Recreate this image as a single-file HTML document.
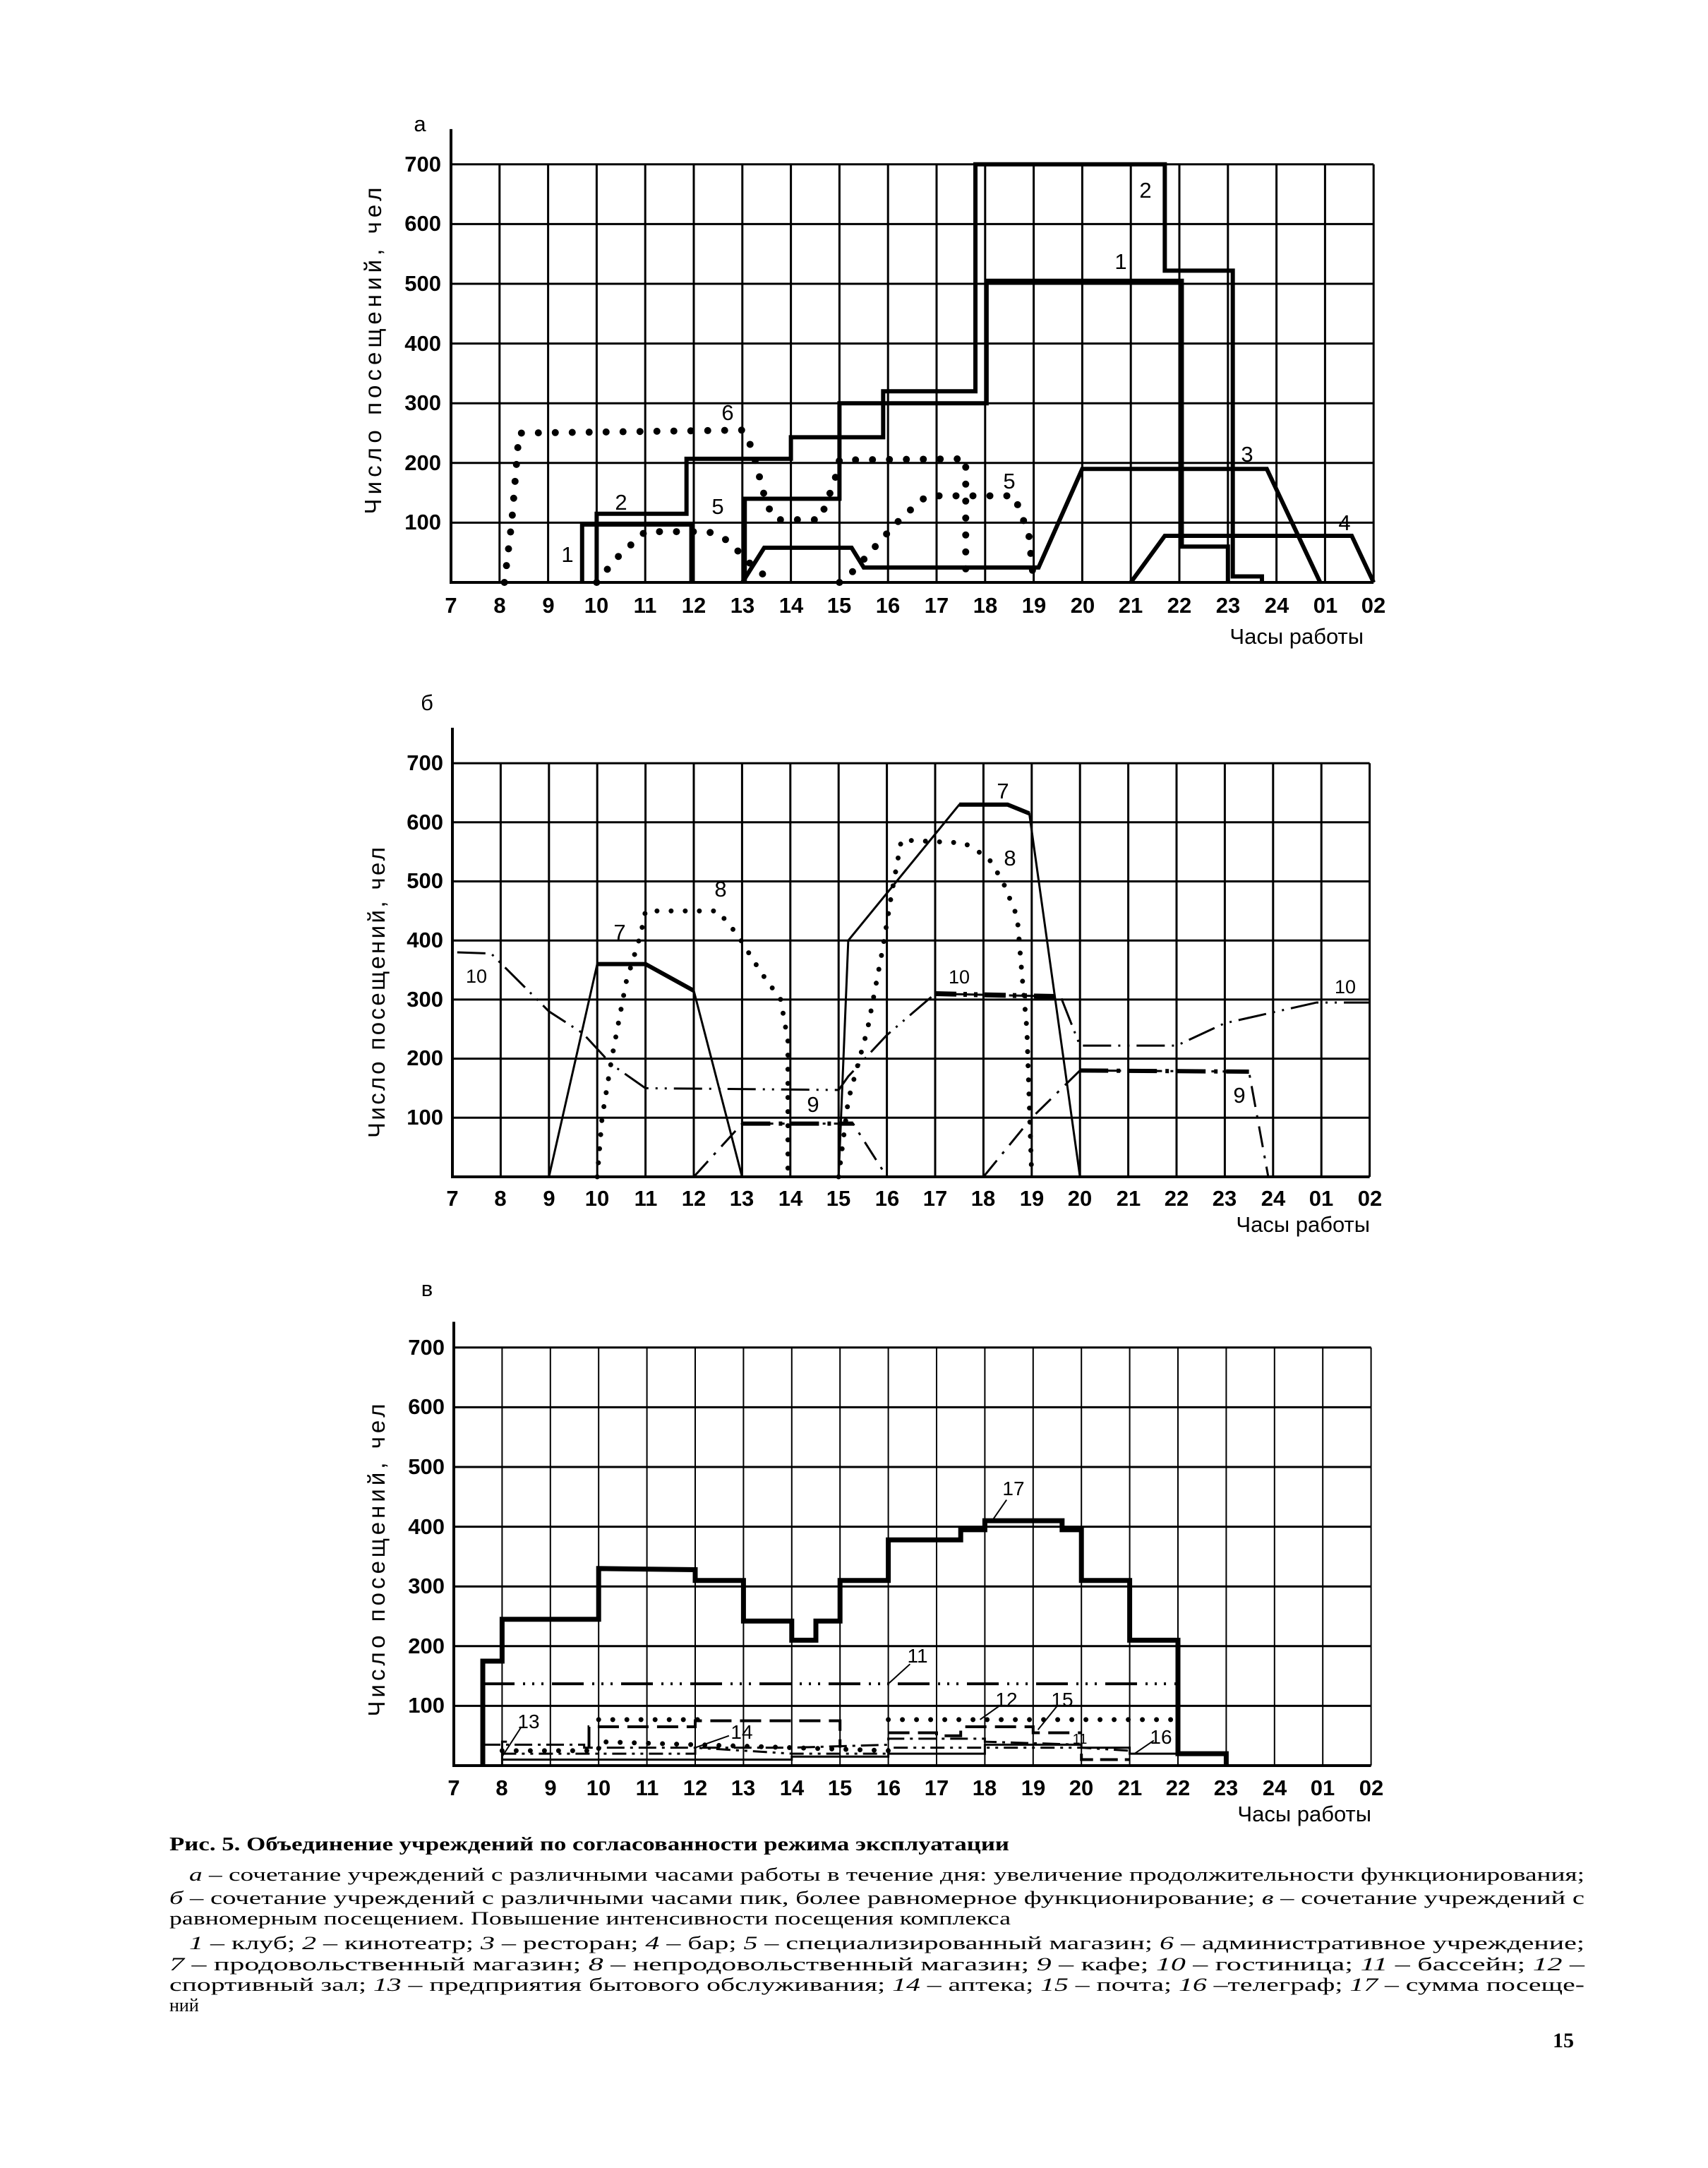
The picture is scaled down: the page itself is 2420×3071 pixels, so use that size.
<!DOCTYPE html>
<html><head><meta charset="utf-8"><style>
html,body{margin:0;padding:0;background:#fff}
svg{display:block}
text{font-family:"Liberation Sans",sans-serif;fill:#000}
.s{font-family:"Liberation Serif",serif}
</style></head><body>
<svg width="2420" height="3071" viewBox="0 0 2420 3071" xmlns="http://www.w3.org/2000/svg">
<rect width="2420" height="3071" fill="#fff"/>

<!-- ========== CHART A ========== -->
<g transform="translate(157.4,825) scale(68.8,-0.846)" fill="none" stroke="#000">
 <g stroke-width="3" vector-effect="non-scaling-stroke">
  <path vector-effect="non-scaling-stroke" d="M7,100H26M7,200H26M7,300H26M7,400H26M7,500H26M7,600H26M7,700H26"/>
  <path vector-effect="non-scaling-stroke" d="M8,0V700M9,0V700M10,0V700M11,0V700M12,0V700M13,0V700M14,0V700M15,0V700M16,0V700M17,0V700M18,0V700M19,0V700M20,0V700M21,0V700M22,0V700M23,0V700M24,0V700M25,0V700M26,0V700"/>
 </g>
 <path vector-effect="non-scaling-stroke" stroke-width="4" d="M7,759V0H26"/>
 <polyline vector-effect="non-scaling-stroke" stroke-width="6" points="9.7,0 9.7,97 11.95,97 11.95,0"/>
 <polyline vector-effect="non-scaling-stroke" stroke-width="6" points="13.05,0 13.05,140 15,140 15,300 18.03,300 18.03,505 22.05,505 22.05,60 23,60 23,0"/>
 <polyline vector-effect="non-scaling-stroke" stroke-width="6" points="10,0 10,115 11.85,115 11.85,207 14,207 14,243 15.9,243 15.9,320 17.8,320 17.8,700 21.7,700 21.7,522 23.1,522 23.1,10 23.7,10 23.7,0"/>
 <polyline vector-effect="non-scaling-stroke" stroke-width="6" points="13,0 13.45,58 15.25,58 15.5,25 19.1,25 20,190 23.8,190 24.9,0"/>
 <polyline vector-effect="non-scaling-stroke" stroke-width="6" points="21,0 21.7,78 25.55,78 26,0"/>
 <g stroke-width="10" stroke-linecap="round" stroke-dasharray="0 24">
  <polyline vector-effect="non-scaling-stroke" points="8.1,0 8.25,100 8.4,250 13,255 13.2,225 13.5,130 13.7,105 14.6,105 14.9,170 15,205 17.6,207 17.6,0"/>
  <polyline vector-effect="non-scaling-stroke" points="10,0 10.4,40 10.8,70 11,85 12.3,85 12.7,70 13,45 13.3,20 13.7,0"/>
  <polyline vector-effect="non-scaling-stroke" points="15,0 15.3,20 15.9,75 16.3,110 16.8,145 17.3,145 18,145 18.6,145 18.9,80 19,0"/>
 </g>
</g>
<g font-size="31">
 <text x="595" y="186" text-anchor="middle">а</text>
 <g text-anchor="end" font-weight="bold">
  <text x="625" y="750">100</text><text x="625" y="666">200</text><text x="625" y="581">300</text><text x="625" y="497">400</text><text x="625" y="412">500</text><text x="625" y="327">600</text><text x="625" y="243">700</text>
 </g>
 <g text-anchor="middle">
  <g font-weight="bold">
  <text x="639" y="868">7</text><text x="708" y="868">8</text><text x="777" y="868">9</text><text x="845" y="868">10</text><text x="914" y="868">11</text><text x="983" y="868">12</text><text x="1052" y="868">13</text><text x="1121" y="868">14</text><text x="1189" y="868">15</text><text x="1258" y="868">16</text><text x="1327" y="868">17</text><text x="1396" y="868">18</text><text x="1465" y="868">19</text><text x="1534" y="868">20</text><text x="1602" y="868">21</text><text x="1671" y="868">22</text><text x="1740" y="868">23</text><text x="1809" y="868">24</text><text x="1878" y="868">01</text><text x="1946" y="868">02</text>
  </g>
  <text x="1623" y="280">2</text><text x="1588" y="381">1</text><text x="1767" y="654">3</text><text x="1905" y="751">4</text><text x="1031" y="595">6</text><text x="1017" y="728">5</text><text x="1430" y="692">5</text><text x="880" y="722">2</text><text x="804" y="796">1</text>
 </g>
 <text x="1932" y="912" text-anchor="end">Часы работы</text>
 <text transform="translate(540,497) rotate(-90)" text-anchor="middle" font-size="33" textLength="463" lengthAdjust="spacing">Число посещений, чел</text>
</g>

<!-- ========== CHART B ========== -->
<g transform="translate(162.2,1667) scale(68.4,-0.837)" fill="none" stroke="#000">
 <path vector-effect="non-scaling-stroke" stroke-width="3" d="M7,100H26M7,200H26M7,300H26M7,400H26M7,500H26M7,600H26M7,700H26"/>
 <path vector-effect="non-scaling-stroke" stroke-width="3" d="M8,0V700M9,0V700M10,0V700M11,0V700M12,0V700M13,0V700M14,0V700M15,0V700M16,0V700M17,0V700M18,0V700M19,0V700M20,0V700M21,0V700M22,0V700M23,0V700M24,0V700M25,0V700M26,0V700"/>
 <path vector-effect="non-scaling-stroke" stroke-width="4" d="M7,760V0H26"/>
 <polyline vector-effect="non-scaling-stroke" stroke-width="3" points="9,0 10,360 11,360 12,315 13,0"/>
 <polyline vector-effect="non-scaling-stroke" stroke-width="6" points="10,360 11,360 12,315"/>
 <polyline vector-effect="non-scaling-stroke" stroke-width="3" points="15,0 15.2,400 17.5,630 18.5,630 18.95,615 20,0"/>
 <polyline vector-effect="non-scaling-stroke" stroke-width="6" points="17.5,630 18.5,630 18.95,615"/>
 <g stroke-width="7" stroke-linecap="round" stroke-dasharray="0 20">
  <polyline vector-effect="non-scaling-stroke" points="10,0 10.1,100 10.3,200 10.6,330 10.9,410 11,450 12.5,450 12.9,410 13.4,345 13.8,300 13.95,230 13.95,0"/>
  <polyline vector-effect="non-scaling-stroke" points="15,0 15.2,130 15.6,250 15.9,380 16.1,480 16.3,570 17.6,565 18.1,540 18.4,500 18.7,440 18.8,340 18.9,250 19,0"/>
 </g>
 <polyline vector-effect="non-scaling-stroke" stroke-width="3" stroke-dasharray="40 10 3 10 3 10" points="7.1,380 7.8,378 9,280 9.7,243 10.3,190 11,150 15,147 15.2,170 16,240 17,310 19.6,305 20,222 22,222 23,260 24.9,295 26,295"/>
 <polyline vector-effect="non-scaling-stroke" stroke-width="7" stroke-dasharray="30 10 5 10 5 10" points="17,310 19.6,305"/>
 <polyline vector-effect="non-scaling-stroke" stroke-width="3" stroke-dasharray="30 12 4 12" points="12,0 13,90 15.3,90 16,0"/>
 <polyline vector-effect="non-scaling-stroke" stroke-width="6" stroke-dasharray="40 12 5 12" points="13,90 15.3,90"/>
 <polyline vector-effect="non-scaling-stroke" stroke-width="3" stroke-dasharray="30 12 4 12" points="18,0 19,100 20,180 23.5,178 23.9,0"/>
 <polyline vector-effect="non-scaling-stroke" stroke-width="6" stroke-dasharray="40 12 5 12" points="20,180 23.5,178"/>
</g>
<g font-size="31">
 <text x="605" y="1006" text-anchor="middle">б</text>
 <g text-anchor="end" font-weight="bold">
  <text x="628" y="1593">100</text><text x="628" y="1509">200</text><text x="628" y="1426">300</text><text x="628" y="1342">400</text><text x="628" y="1258">500</text><text x="628" y="1175">600</text><text x="628" y="1091">700</text>
 </g>
 <g text-anchor="middle">
  <g font-weight="bold">
  <text x="641" y="1708">7</text><text x="709" y="1708">8</text><text x="778" y="1708">9</text><text x="846" y="1708">10</text><text x="915" y="1708">11</text><text x="983" y="1708">12</text><text x="1051" y="1708">13</text><text x="1120" y="1708">14</text><text x="1188" y="1708">15</text><text x="1257" y="1708">16</text><text x="1325" y="1708">17</text><text x="1393" y="1708">18</text><text x="1462" y="1708">19</text><text x="1530" y="1708">20</text><text x="1599" y="1708">21</text><text x="1667" y="1708">22</text><text x="1735" y="1708">23</text><text x="1804" y="1708">24</text><text x="1872" y="1708">01</text><text x="1941" y="1708">02</text>
  </g>
  <text x="1421" y="1131">7</text><text x="1431" y="1226">8</text><text x="1021" y="1270">8</text><text x="878" y="1331">7</text><text x="675" y="1392" font-size="27">10</text><text x="1359" y="1393" font-size="27">10</text><text x="1906" y="1407" font-size="27">10</text><text x="1152" y="1575">9</text><text x="1756" y="1562">9</text>
 </g>
 <text x="1941" y="1745" text-anchor="end">Часы работы</text>
 <text transform="translate(545,1406) rotate(-90)" text-anchor="middle" font-size="33" textLength="412" lengthAdjust="spacing">Число посещений, чел</text>
</g>

<!-- ========== CHART C ========== -->
<g transform="translate(164.2,2501) scale(68.4,-0.846)" fill="none" stroke="#000">
 <path vector-effect="non-scaling-stroke" stroke-width="3" d="M7,100H26M7,200H26M7,300H26M7,400H26M7,500H26M7,600H26M7,700H26"/>
 <path vector-effect="non-scaling-stroke" stroke-width="2" d="M8,0V700M9,0V700M10,0V700M11,0V700M12,0V700M13,0V700M14,0V700M15,0V700M16,0V700M17,0V700M18,0V700M19,0V700M20,0V700M21,0V700M22,0V700M23,0V700M24,0V700M25,0V700M26,0V700"/>
 <path vector-effect="non-scaling-stroke" stroke-width="4" d="M7,743V0H26"/>
 <polyline vector-effect="non-scaling-stroke" stroke-width="7" points="7.6,0 7.6,175 8,175 8,245 10,245 10,330 12,328 12,310 13,310 13,242 14,242 14,210 14.5,210 14.5,242 15,242 15,310 16,310 16,378 17.5,378 17.5,395 18,395 18,410 19.6,410 19.6,395 20,395 20,310 21,310 21,210 22,210 22,20 23,20 23,0"/>
 <polyline vector-effect="non-scaling-stroke" stroke-width="4" stroke-dasharray="45 12 3 10 3 10 3 12" points="7.6,137 22,137"/>
 <g stroke-width="7" stroke-linecap="round" stroke-dasharray="0 20">
  <polyline vector-effect="non-scaling-stroke" points="10,77 12.3,77"/>
  <polyline vector-effect="non-scaling-stroke" points="16,77 22,77"/>
  <polyline vector-effect="non-scaling-stroke" points="8,25 10,25 10,40 16,25"/>
 </g>
 <polyline vector-effect="non-scaling-stroke" stroke-width="4" stroke-dasharray="30 12" points="9.8,30 9.8,65 12,65 12,75 15,75 15,30"/>
 <polyline vector-effect="non-scaling-stroke" stroke-width="4" stroke-dasharray="30 12" points="16,55 17,55 17,50 17.5,50 17.5,65 19,65 19,55 20,55"/>
 <polyline vector-effect="non-scaling-stroke" stroke-width="4" stroke-dasharray="25 10" points="20,20 20,10 21,10"/>
 <polyline vector-effect="non-scaling-stroke" stroke-width="3" stroke-dasharray="25 8 4 8" points="7.6,35 9.7,35 9.7,30 14,30 16,35 16,45 18,45 18,40 20,35"/>
 <polyline vector-effect="non-scaling-stroke" stroke-width="3" stroke-dasharray="20 8 4 8 4 8" points="8,20 12,20 12,30 14,20 16,20 16,30 20,30 21,25"/>
 <polyline vector-effect="non-scaling-stroke" stroke-width="3" points="8,10 14,10 14,15 16,15 16,20 18,20 18,35 20,35 20,30 21,30 21,20 22,20"/>
 <polyline vector-effect="non-scaling-stroke" stroke-width="3" points="8,2 8,40 8.1,40"/>
 <g stroke-width="2">
  <polyline vector-effect="non-scaling-stroke" points="18.15,410 18.45,445"/>
  <polyline vector-effect="non-scaling-stroke" points="16,137 16.45,170"/>
  <polyline vector-effect="non-scaling-stroke" points="17.9,77 18.3,100"/>
  <polyline vector-effect="non-scaling-stroke" points="19.1,60 19.5,100"/>
  <polyline vector-effect="non-scaling-stroke" points="8,15 8.4,65"/>
  <polyline vector-effect="non-scaling-stroke" points="12,30 12.7,50"/>
  <polyline vector-effect="non-scaling-stroke" points="21.1,20 21.5,42"/>
 </g>
</g>
<g font-size="31">
 <text x="605" y="1836" text-anchor="middle">в</text>
 <g text-anchor="end" font-weight="bold">
  <text x="630" y="2426">100</text><text x="630" y="2342">200</text><text x="630" y="2257">300</text><text x="630" y="2173">400</text><text x="630" y="2088">500</text><text x="630" y="2003">600</text><text x="630" y="1919">700</text>
 </g>
 <g text-anchor="middle" font-weight="bold">
  <text x="643" y="2543">7</text><text x="711" y="2543">8</text><text x="780" y="2543">9</text><text x="848" y="2543">10</text><text x="917" y="2543">11</text><text x="985" y="2543">12</text><text x="1053" y="2543">13</text><text x="1122" y="2543">14</text><text x="1190" y="2543">15</text><text x="1259" y="2543">16</text><text x="1327" y="2543">17</text><text x="1395" y="2543">18</text><text x="1464" y="2543">19</text><text x="1532" y="2543">20</text><text x="1601" y="2543">21</text><text x="1669" y="2543">22</text><text x="1737" y="2543">23</text><text x="1806" y="2543">24</text><text x="1874" y="2543">01</text><text x="1943" y="2543">02</text>
 </g>
 <g text-anchor="middle" font-size="28">
  <text x="1436" y="2118">17</text><text x="1300" y="2355">11</text><text x="1426" y="2417">12</text><text x="1505" y="2417">15</text><text x="749" y="2448">13</text><text x="1051" y="2463">14</text><text x="1645" y="2470">16</text><text x="1530" y="2470" font-size="20">11</text>
 </g>
 <text x="1943" y="2580" text-anchor="end">Часы работы</text>
 <text transform="translate(545,2210) rotate(-90)" text-anchor="middle" font-size="33" textLength="443" lengthAdjust="spacing">Число посещений, чел</text>
</g>

<!-- ========== CAPTION ========== -->
<g>
 <text class="s" x="240" y="2621" font-weight="bold" font-size="27" textLength="1190" lengthAdjust="spacingAndGlyphs">Рис. 5. Объединение учреждений по согласованности режима эксплуатации</text>
 <text class="s" x="268" y="2664" font-size="26" textLength="1977" lengthAdjust="spacingAndGlyphs"><tspan font-style="italic">а</tspan> – сочетание учреждений с различными часами работы в течение дня: увеличение продолжительности функционирования;</text>
 <text class="s" x="240" y="2697" font-size="26" textLength="2005" lengthAdjust="spacingAndGlyphs"><tspan font-style="italic">б</tspan> – сочетание учреждений с различными часами пик, более равномерное функционирование; <tspan font-style="italic">в</tspan> – сочетание учреждений с</text>
 <text class="s" x="240" y="2726" font-size="26" textLength="1192" lengthAdjust="spacingAndGlyphs">равномерным посещением. Повышение интенсивности посещения комплекса</text>
 <text class="s" x="268" y="2761" font-size="26" textLength="1977" lengthAdjust="spacingAndGlyphs"><tspan font-style="italic">1</tspan> – клуб; <tspan font-style="italic">2</tspan> – кинотеатр; <tspan font-style="italic">3</tspan> – ресторан; <tspan font-style="italic">4</tspan> – бар; <tspan font-style="italic">5</tspan> – специализированный магазин; <tspan font-style="italic">6</tspan> – административное учреждение;</text>
 <text class="s" x="240" y="2791" font-size="26" textLength="2005" lengthAdjust="spacingAndGlyphs"><tspan font-style="italic">7</tspan> – продовольственный магазин; <tspan font-style="italic">8</tspan> – непродовольственный магазин; <tspan font-style="italic">9</tspan> – кафе; <tspan font-style="italic">10</tspan> – гостиница; <tspan font-style="italic">11</tspan> – бассейн; <tspan font-style="italic">12</tspan> –</text>
 <text class="s" x="240" y="2820" font-size="26" textLength="2005" lengthAdjust="spacingAndGlyphs">спортивный зал; <tspan font-style="italic">13</tspan> – предприятия бытового обслуживания; <tspan font-style="italic">14</tspan> – аптека; <tspan font-style="italic">15</tspan> – почта; <tspan font-style="italic">16</tspan> –телеграф; <tspan font-style="italic">17</tspan> – сумма посеще-</text>
 <text class="s" x="240" y="2849" font-size="26">ний</text>
 <text class="s" x="2215" y="2900" font-weight="bold" font-size="30" text-anchor="middle">15</text>
</g>
</svg>
</body></html>
